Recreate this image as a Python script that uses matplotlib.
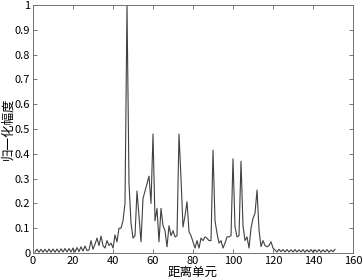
import numpy as np
import matplotlib.pyplot as plt

plt.rcParams['font.family'] = ['Noto Sans CJK SC', 'DejaVu Sans']

# range cells 1..151
cells = np.arange(1, 152)

# normalised amplitude
amp = [
    # 1-20
    0.004, 0.015, 0.003, 0.015, 0.003, 0.015, 0.003, 0.016, 0.003, 0.016,
    0.003, 0.016, 0.003, 0.017, 0.004, 0.018, 0.004, 0.018, 0.004, 0.02,
    # 21-40
    0.004, 0.022, 0.006, 0.025, 0.008, 0.028, 0.01, 0.012, 0.05, 0.015,
    0.035, 0.06, 0.03, 0.068, 0.03, 0.02, 0.05, 0.03, 0.04, 0.02,
    # 41-60
    0.073, 0.045, 0.1, 0.1, 0.13, 0.2, 1.0, 0.28, 0.12, 0.06,
    0.07, 0.25, 0.15, 0.045, 0.22, 0.25, 0.28, 0.31, 0.2, 0.48,
    # 61-80
    0.13, 0.18, 0.045, 0.18, 0.11, 0.09, 0.025, 0.11, 0.07, 0.09,
    0.065, 0.07, 0.48, 0.3, 0.105, 0.15, 0.207, 0.086, 0.07, 0.045,
    # 81-100
    0.02, 0.05, 0.02, 0.06, 0.05, 0.065, 0.06, 0.05, 0.05, 0.415,
    0.13, 0.08, 0.04, 0.05, 0.02, 0.04, 0.065, 0.065, 0.07, 0.38,
    # 101-120
    0.106, 0.065, 0.07, 0.37, 0.11, 0.05, 0.065, 0.02, 0.1, 0.14,
    0.16, 0.254, 0.093, 0.026, 0.05, 0.03, 0.025, 0.03, 0.045, 0.02,
    # 121-151
    0.012, 0.004, 0.015, 0.005, 0.014, 0.004, 0.014, 0.004, 0.013, 0.004,
    0.014, 0.004, 0.013, 0.004, 0.014, 0.003, 0.013, 0.004, 0.014, 0.003,
    0.013, 0.004, 0.014, 0.003, 0.013, 0.004, 0.014, 0.003, 0.012, 0.005,
    0.015,
]

xticks = np.arange(0, 161, 20)
yticks = np.round(np.arange(0, 1.01, 0.1), 1)
ytick_labels = ['0'] + ['%.1f' % v for v in yticks[1:-1]] + ['1']

fig = plt.figure(figsize=(3.63, 2.80), dpi=100)
ax = fig.add_axes([0.0909, 0.0964, 0.8816, 0.8856])

ax.plot(cells, amp, color='#404040', linewidth=0.8)

ax.set_xlim(0, 160)
ax.set_ylim(0, 1)
ax.set_xticks(xticks)
ax.set_yticks(yticks)
ax.set_yticklabels(ytick_labels)
ax.tick_params(direction='in', length=3, width=0.6, top=True, right=True,
               labelsize=8, pad=2, color='#606060')
for s in ax.spines.values():
    s.set_linewidth(0.7)
    s.set_color('#707070')

ax.set_xlabel('距离单元', fontsize=9, labelpad=0)
ax.set_ylabel('归一化幅度', fontsize=9, labelpad=0)

fig.savefig('out.png', dpi=100)
